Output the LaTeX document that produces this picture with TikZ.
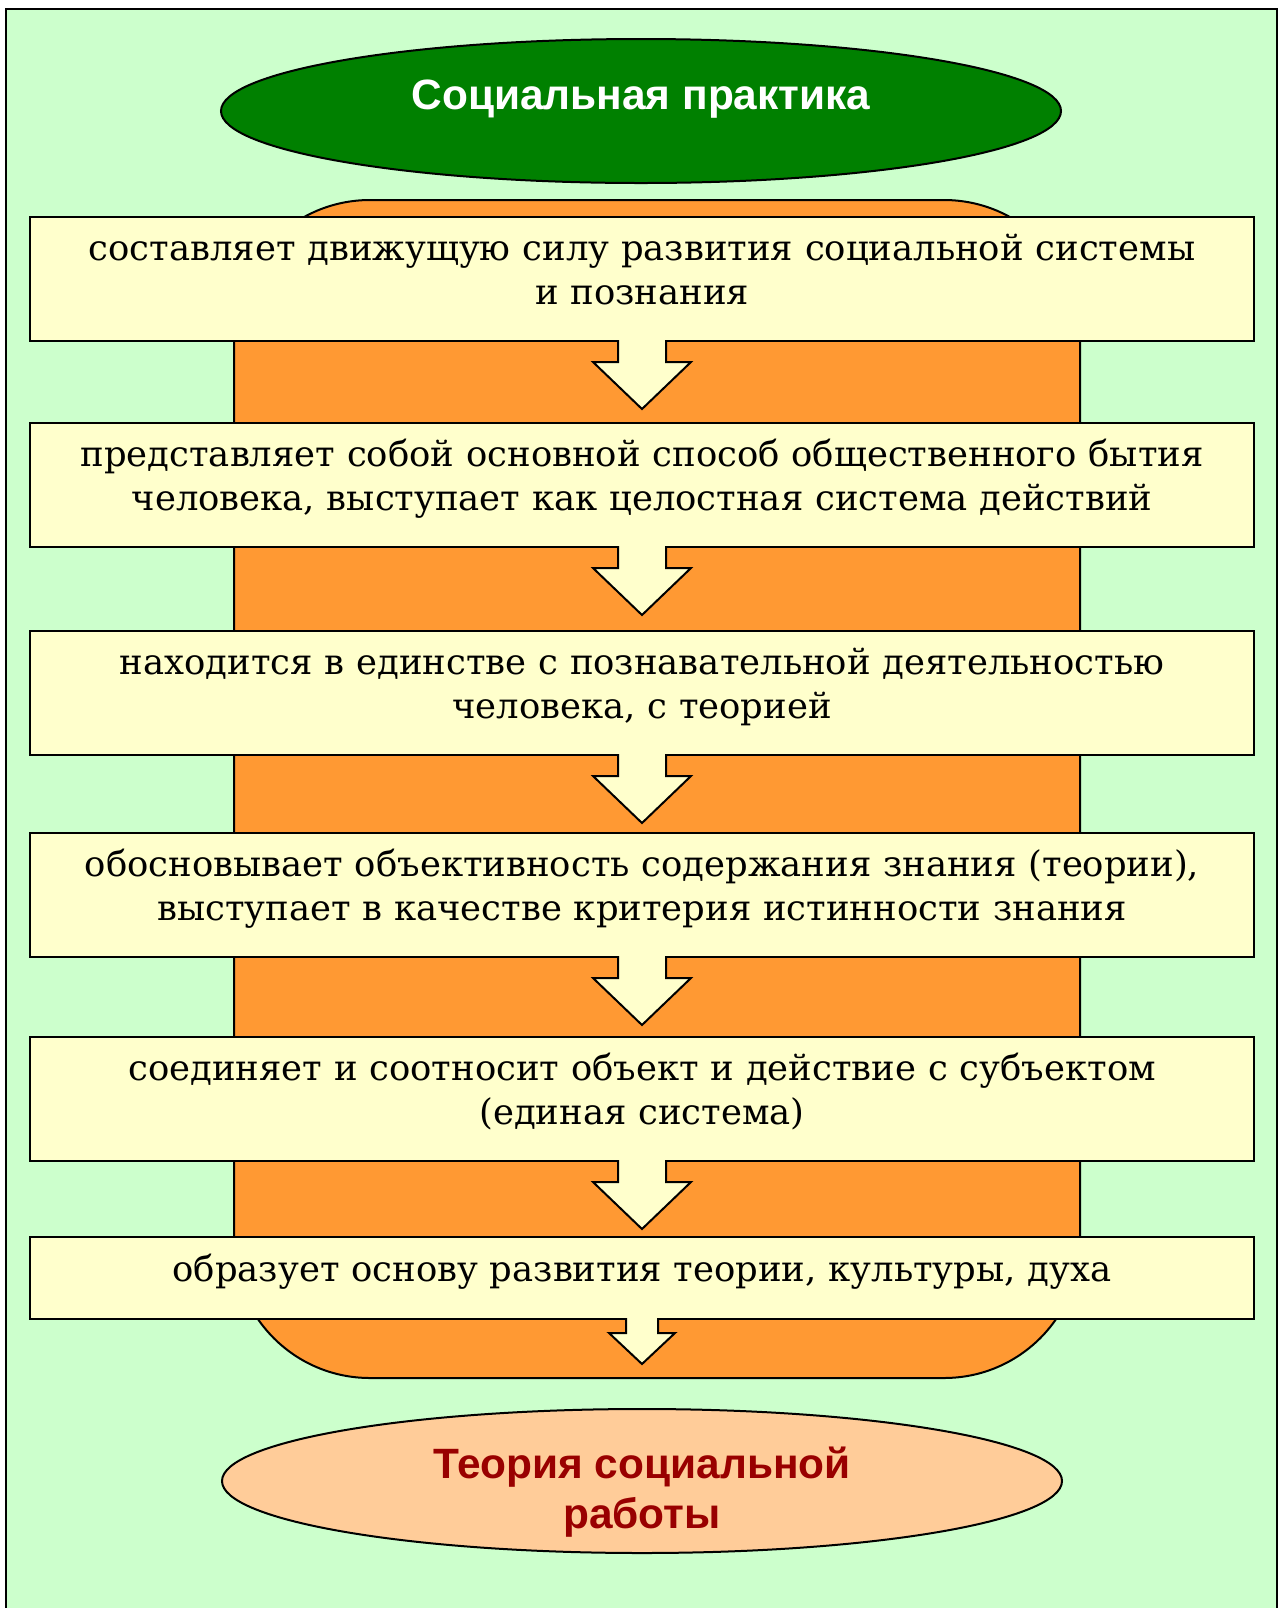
\documentclass[tikz,border=0pt]{standalone}
\usepackage{fontspec}
\setmainfont{DejaVu Serif}
\setsansfont{Liberation Sans}
\usetikzlibrary{positioning}
\usetikzlibrary{shapes.geometric}
\usetikzlibrary{calc}

\definecolor{pagebg}{HTML}{CCFFCC}
\definecolor{boxfill}{HTML}{FFFFCC}
\definecolor{backorange}{HTML}{FF9933}
\definecolor{topgreen}{HTML}{008000}
\definecolor{peach}{HTML}{FFCC99}
\definecolor{darkred}{HTML}{990000}

% block arrow hanging below a box: box, shaft half width, shaft length, head half width, head length
\newcommand{\stepdown}[5]{%
	\filldraw[fill=boxfill,line width=1pt,line join=miter]
		($(#1.south)+(-#2,-2)$) -- ++(0,#3+2) -- ++(#2-#4,0) -- ++(#4,#5)
		-- ++(#4,-#5) -- ++(#2-#4,0) -- ++(0,-#3-2);}

\begin{document}
\begin{tikzpicture}[x=0.5pt,y=-0.5pt,node distance=40pt,
	stepbox/.style={rectangle,draw,line width=1pt,fill=boxfill,minimum width=612pt,
		minimum height=62pt,text width=600pt,align=center,inner sep=2pt,
		font=\fontsize{17.7}{22}\selectfont,
		execute at begin node={\rule{0pt}{16pt}},
		execute at end node={\rule[-12.5pt]{0pt}{0pt}}},
	oval/.style={ellipse,draw,line width=1pt,minimum width=420pt,minimum height=72pt,
		font=\sffamily\bfseries\fontsize{21.2}{25}\selectfont}]

	\useasboundingbox (0,0) rectangle (1283,1608);
	\clip (0,0) rectangle (1283,1608);
	\fill[white] (0,0) rectangle (1283,1608);
	\draw[fill=pagebg,line width=1.3pt] (6,9) rectangle (1277,1660);

	% orange background column
	\draw[fill=backorange,line width=1pt,rounded corners=68pt] (234,200) rectangle (1080,1378);

	\node[stepbox] (b1) at (642,279) {составляет движущую силу развития социальной системы\\ и познания};
	\node[stepbox] (b2) [below=of b1] {представляет собой основной способ общественного бытия\\ человека, выступает как целостная система действий};
	\node[stepbox] (b3) [below=41pt of b2] {находится в единстве с познавательной деятельностью\\ человека, с теорией};
	\node[stepbox] (b4) [below=38pt of b3] {обосновывает объективность содержания знания (теории),\\ выступает в качестве критерия истинности знания};
	\node[stepbox] (b5) [below=39pt of b4] {соединяет и соотносит объект и действие с субъектом\\ (единая система)};
	\node[stepbox,minimum height=41pt] (b6) [below=37pt of b5] {образует основу развития теории, культуры, духа};

	\foreach \n in {1,...,5}
		\stepdown{b\n}{24}{20}{49}{47};
	\stepdown{b6}{16}{13}{33}{31}

	\node[oval,fill=topgreen,text=white,text height=15pt,text depth=17pt] (practice) at (641,111) {Социальная практика};
	\node[oval,fill=peach] (theory) at (642,1481) {};
	\node[font=\sffamily\bfseries\fontsize{21.2}{25}\selectfont,text=darkred,align=center] (theorytext) at (642,1492) {Теория социальной\\ работы};

\end{tikzpicture}
\end{document}
